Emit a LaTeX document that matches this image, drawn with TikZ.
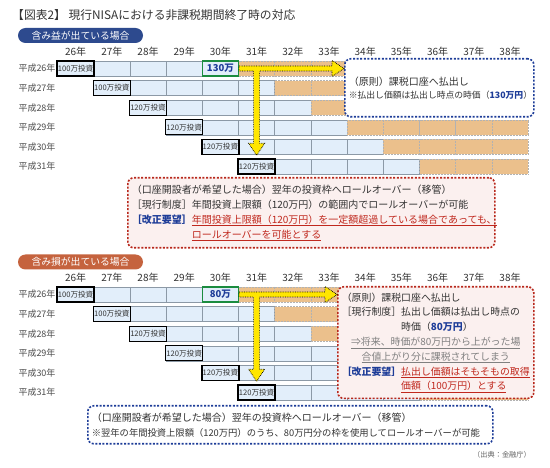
\documentclass[tikz,border=0pt]{standalone}
\usepackage{fontspec}
\setmainfont{Noto Sans CJK JP}
\usepackage{xcolor}
\usepackage{tikz}
\usetikzlibrary{calc,positioning}
\definecolor{cellblue}{HTML}{E2EEFA}
\definecolor{cellline}{HTML}{8C99A6}
\definecolor{cellorange}{HTML}{EBC08C}
\definecolor{navy}{HTML}{2D4A8E}
\definecolor{brick}{HTML}{C5633E}
\definecolor{tblue}{HTML}{1D3C98}
\definecolor{tred}{HTML}{C0281E}
\definecolor{boxred}{HTML}{B8281C}
\definecolor{boxpink}{HTML}{FBF0EF}
\definecolor{vgreen}{HTML}{1B8C3F}
\definecolor{ylw}{HTML}{FFE600}
\definecolor{txt}{HTML}{333333}
\setlength{\parindent}{0pt}

% one holding-period chart: #1 = vertical offset, #2 = value, #3 = name suffix
\newcommand{\nisachart}[3]{%
  \foreach \c [evaluate=\c as \yr using int(26+\c)] in {0,...,12}
    \node[yrlbl] (yr#3\c) at ({75.6+36.2*\c},{#1+51.5}) {\yr 年};
  \foreach \r [evaluate=\r as \yr using int(26+\r)] in {0,...,5}{
    \node[rowlbl] (row#3\r) at (37,{#1+68.5+19.6*\r}) {平成\yr 年};
    \foreach \c in {\r,...,12}{
      \ifnum\c>\numexpr\r+4\relax
        \filldraw[cello] ({57.5+36.2*\c},{#1+61+19.6*\r}) rectangle +(36.2,15);
      \else
        \filldraw[cellb] ({57.5+36.2*\c},{#1+61+19.6*\r}) rectangle +(36.2,15);
      \fi
    }
  }
  \foreach \r/\amt in {0/100,1/100,2/120,3/120,4/120,5/120}
    \node[invbox] (inv#3\r) at ({75.6+36.2*\r},{#1+68.5+19.6*\r}) {\amt 万投資};
  \node[valbox] (val#3) at ({75.6+36.2*4},{#1+68.5}) {#2};
}

% yellow T-arrow: from value box to box (#2) and down to next investment (#3)
\newcommand{\yarrow}[3]{%
  \filldraw[yarr] let \p1=(#1.east), \p2=(#2.west), \p3=(#3.north) in
    (\x1,\y1+2.5pt) -- (\x2-12pt,\y1+2.5pt) -- (\x2-12pt,\y1+8pt) -- (\x2,\y1)
    -- (\x2-12pt,\y1-8pt) -- (\x2-12pt,\y1-2.5pt) -- (\x3+3pt,\y1-2.5pt)
    -- (\x3+3pt,\y3+15pt) -- (\x3+8pt,\y3+15pt) -- (\x3,\y3+3pt) -- (\x3-8pt,\y3+15pt)
    -- (\x3-3pt,\y3+15pt) -- (\x3-3pt,\y1-2.5pt) -- (\x1,\y1-2.5pt) -- cycle;}

\begin{document}
\begin{tikzpicture}[x=1pt, y=-1pt,
    yrlbl/.style={font=\fontsize{10}{12}\selectfont, text=txt, inner sep=0},
    rowlbl/.style={font=\fontsize{9}{11}\selectfont, text=black!70, inner sep=0},
    cellb/.style={fill=cellblue, draw=cellline, line width=0.5pt},
    cello/.style={fill=cellorange, draw=black!30, densely dotted, line width=0.5pt},
    invbox/.style={draw=black, line width=1.3pt, fill=cellblue, minimum width=37pt, minimum height=15pt, inner sep=0, font=\fontsize{7.6}{8}\selectfont, text=txt},
    valbox/.style={draw=vgreen, line width=1.3pt, fill=cellblue, minimum width=36pt, minimum height=15pt, inner sep=0, font=\fontsize{9.5}{10}\selectfont\bfseries, text=tblue},
    pill/.style={rounded corners=7.5pt, minimum width=125pt, minimum height=15pt, inner sep=0, text=white, font=\fontsize{9.8}{11}\selectfont},
    bluebox/.style={draw=tblue, fill=white, line width=1.6pt, dash pattern=on 2pt off 1.6pt, rounded corners=6pt, inner sep=4pt, align=left, text=txt, anchor=north west},
    redbox/.style={bluebox, draw=boxred, fill=boxpink},
    yarr/.style={fill=ylw, draw=black, line width=0.7pt, densely dotted}
]
\fill[white] (0,0) rectangle (550,468);
\useasboundingbox (0,0) rectangle (550,468);

\node[anchor=west, inner sep=0, font=\fontsize{11.8}{14}\selectfont, text=txt] (title) at (12,15) {【図表2】 現行NISAにおける非課税期間終了時の対応};

% gains case
\node[pill, fill=navy] (pillT) at (80.5,35.5) {含み益が出ている場合};
\nisachart{0}{130万}{T}
\node[bluebox, text width=181pt, minimum height=58pt, font=\fontsize{10}{13}\selectfont] (prinT) at (344,58)
  {（原則）課税口座へ払出し\\
   {\fontsize{8.8}{12}\selectfont ※払出し価額は払出し時点の時価（\textcolor{tblue}{\bfseries 130万円}）}};
\yarrow{valT}{prinT}{invT5}
\node[redbox, text width=359pt, minimum height=70pt, font=\fontsize{10}{15}\selectfont] (rollT) at (127,177)
  {\begin{tabular}{@{}l@{}l@{}}
   \multicolumn{2}{@{}l@{}}{（口座開設者が希望した場合）翌年の投資枠へロールオーバー（移管）}\\
   \multicolumn{2}{@{}l@{}}{［現行制度］年間投資上限額（120万円）の範囲内でロールオーバーが可能}\\
   \textcolor{tblue}{\bfseries［改正要望］}&\textcolor{tred}{\underline{年間投資上限額（120万円）を一定額超過している場合であっても、}}\\
   &\textcolor{tred}{\underline{ロールオーバーを可能とする}}
   \end{tabular}};

% losses case
\node[pill, fill=brick] (pillB) at (80.5,262) {含み損が出ている場合};
\nisachart{226}{80万}{B}
\node[redbox, text width=188pt, minimum height=108pt, font=\fontsize{9.9}{14.8}\selectfont] (prinB) at (337,286)
  {\begin{tabular}{@{}l@{}l@{}}
   \multicolumn{2}{@{}l@{}}{（原則）課税口座へ払出し}\\
   ［現行制度］&払出し価額は払出し時点の\\
   &時価（\textcolor{tblue}{\bfseries 80万円}）\\
   \multicolumn{2}{@{}c@{}}{\textcolor{black!50}{\underline{⇒将来、時価が80万円から上がった場}}}\\
   \multicolumn{2}{@{}c@{}}{\textcolor{black!50}{\underline{合値上がり分に課税されてしまう}}}\\
   \textcolor{tblue}{\bfseries［改正要望］}&\textcolor{tred}{\underline{払出し価額はそもそもの取得}}\\
   &\textcolor{tred}{\underline{価額（100万円）とする}}
   \end{tabular}};
\yarrow{valB}{prinB}{invB5}
\node[bluebox, text width=397pt, minimum height=38pt, font=\fontsize{10}{15}\selectfont] (rollB) at (87,405)
  {（口座開設者が希望した場合）翌年の投資枠へロールオーバー（移管）\\
   {\fontsize{9.3}{15}\selectfont ※翌年の年間投資上限額（120万円）のうち、80万円分の枠を使用してロールオーバーが可能}};

\node[anchor=east, inner sep=0, font=\fontsize{7.2}{8}\selectfont, text=black!60] (src) at (531,455) {（出典：金融庁）};
\end{tikzpicture}
\end{document}
